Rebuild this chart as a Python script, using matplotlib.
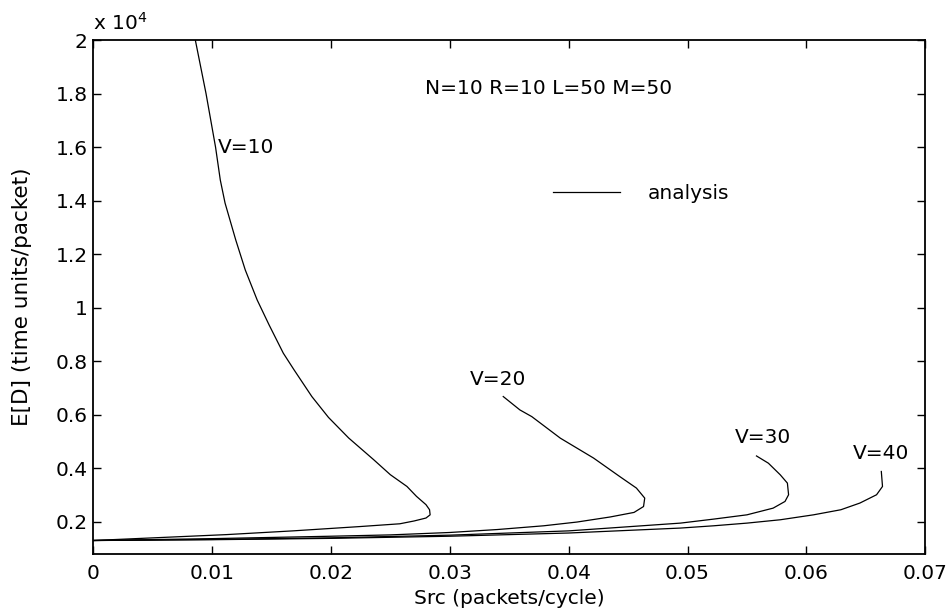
import numpy as np
import matplotlib
matplotlib.use('Agg')
import matplotlib.pyplot as plt
from matplotlib.ticker import FuncFormatter

plt.rcParams['font.family'] = ['DejaVu Sans']

# E[D] values in units of 1e4
x_v10 = [0, 0.0056, 0.0112, 0.0168, 0.0224, 0.0258, 0.0270, 0.0280, 0.02835, 0.0283, 0.0280,
         0.0272, 0.0264, 0.0250, 0.0236, 0.0215, 0.0198, 0.0184, 0.0169, 0.0160, 0.0148,
         0.0138, 0.0128, 0.0120, 0.0111, 0.0107, 0.0103, 0.0095, 0.0086]
y_v10 = [0.130, 0.141, 0.152, 0.166, 0.182, 0.1925, 0.203, 0.214, 0.226, 0.245, 0.264,
         0.295, 0.332, 0.376, 0.432, 0.513, 0.590, 0.668, 0.768, 0.830, 0.936,
         1.029, 1.141, 1.253, 1.391, 1.477, 1.6, 1.8, 2.0]

x_v20 = [0, 0.01, 0.02, 0.025, 0.030, 0.034, 0.0379, 0.0407, 0.0435, 0.0455, 0.0463,
         0.0464, 0.0457, 0.0443, 0.0421, 0.0393, 0.0369, 0.0359, 0.0345]
y_v20 = [0.130, 0.137, 0.146, 0.151, 0.160, 0.171, 0.185, 0.199, 0.218, 0.235, 0.257,
         0.2885, 0.326, 0.369, 0.438, 0.5125, 0.593, 0.618, 0.668]

x_v30 = [0, 0.01, 0.02, 0.03, 0.04, 0.0494, 0.0522, 0.0550, 0.0572, 0.0582, 0.0585,
         0.0584, 0.0578, 0.0568, 0.0558]
y_v30 = [0.130, 0.134, 0.140, 0.150, 0.166, 0.195, 0.210, 0.226, 0.251, 0.276, 0.301,
         0.3445, 0.3755, 0.419, 0.446]

x_v40 = [0, 0.01, 0.02, 0.03, 0.04, 0.0494, 0.0522, 0.0550, 0.0578, 0.0606, 0.0629,
         0.0645, 0.0659, 0.0664, 0.0663]
y_v40 = [0.130, 0.133, 0.138, 0.146, 0.158, 0.1765, 0.185, 0.195, 0.2075, 0.226, 0.245,
         0.270, 0.301, 0.332, 0.388]

fig = plt.figure(figsize=(9.5, 6.08), dpi=100)
ax = fig.add_axes([0.098, 0.089, 0.876, 0.845])

ax.plot(x_v10, np.array(y_v10) * 1e4, color='black', lw=0.9, label='analysis')
ax.plot(x_v20, np.array(y_v20) * 1e4, color='black', lw=0.9)
ax.plot(x_v30, np.array(y_v30) * 1e4, color='black', lw=0.9)
ax.plot(x_v40, np.array(y_v40) * 1e4, color='black', lw=0.9)

fs = 14.5
ax.text(0.0105, 16000, 'V=10', fontsize=fs, va='center')
ax.text(0.0317, 7300, 'V=20', fontsize=fs, va='center')
ax.text(0.0540, 5140, 'V=30', fontsize=fs, va='center')
ax.text(0.0639, 4540, 'V=40', fontsize=fs, va='center')
ax.text(0.0383, 18200, 'N=10 R=10 L=50 M=50', fontsize=fs, ha='center', va='center')

ax.legend(loc='center left', bbox_to_anchor=(0.553, 0.702), frameon=False,
          fontsize=fs, handlelength=3.3, handletextpad=1.4, borderpad=0, borderaxespad=0)

ax.set_xlim(0, 0.07)
ax.set_ylim(800, 20000)
ax.set_xticks(np.arange(0, 0.0701, 0.01))
ax.set_yticks(np.arange(2000, 20001, 2000))
ax.xaxis.set_major_formatter(FuncFormatter(lambda v, p: '%g' % round(v, 4)))
ax.yaxis.set_major_formatter(FuncFormatter(lambda v, p: '%g' % round(v / 1e4, 4)))
ax.tick_params(direction='in', top=True, right=True, length=6, width=1, labelsize=fs)
ax.tick_params(axis='x', pad=7)
ax.tick_params(axis='y', pad=4)
for s in ax.spines.values():
    s.set_linewidth(1.3)

ax.text(0.0, 1.012, 'x 10$^{4}$', transform=ax.transAxes, fontsize=fs, va='bottom')
ax.set_xlabel('Src (packets/cycle)', fontsize=fs)
ax.set_ylabel('E[D] (time units/packet)', fontsize=15.5)
ax.xaxis.set_label_coords(0.5, -0.068)
ax.yaxis.set_label_coords(-0.074, 0.5)

fig.savefig('out.png', dpi=100)
